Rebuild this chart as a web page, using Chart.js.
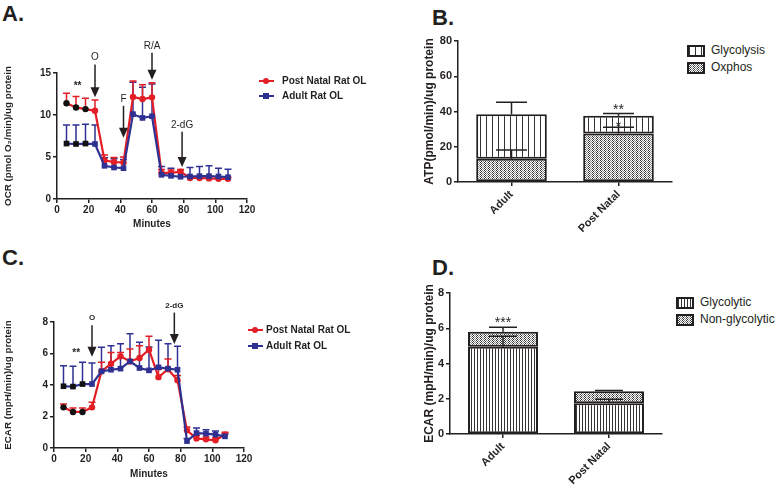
<!DOCTYPE html>
<html>
<head>
<meta charset="utf-8">
<script src="https://cdn.jsdelivr.net/npm/chart.js@4.4.1/dist/chart.umd.min.js"></script>
<style>
  body { margin: 0; width: 778px; height: 490px; background: #fff; position: relative; overflow: hidden;
         font-family: "Liberation Sans", Arial, sans-serif; color: #231f20; }
  canvas { position: absolute; }
  .tag { position: absolute; font-weight: bold; font-size: 22px; line-height: 22px; }
  .lg { position: absolute; font-size: 10px; font-weight: bold; line-height: 12px; white-space: nowrap; }
  .lg .ln { position: absolute; left: 0; top: 5px; width: 15px; height: 2px; }
  .lg .pt { position: absolute; left: 4px; top: 3px; width: 6px; height: 6px; }
  .lg .txt { position: absolute; top: 0; }
  .blg { position: absolute; font-size: 12px; line-height: 14px; white-space: nowrap; }
  .blg .sw { position: absolute; left: 0; top: 2px; width: 14px; height: 8px; border: 2px solid #231f20; }
  .blg .txt { position: absolute; left: 24px; top: 0; }
</style>
</head>
<body>
<div class="tag" style="left:2px;top:3px">A.</div>
<div class="tag" style="left:432px;top:7px">B.</div>
<div class="tag" style="left:2px;top:247px">C.</div>
<div class="tag" style="left:432px;top:257px">D.</div>

<canvas id="chartA" width="260" height="234" style="left:0;top:0"></canvas>
<canvas id="chartB" width="260" height="240" style="left:420px;top:0"></canvas>
<canvas id="chartC" width="256" height="244" style="left:0;top:240px"></canvas>
<canvas id="chartD" width="250" height="250" style="left:420px;top:240px"></canvas>

<div class="lg" style="left:259px;top:75px">
  <div class="ln" style="background:#e31e26"></div><div class="pt" style="background:#e31e26;border-radius:50%"></div>
  <div class="txt" style="left:23px">Post Natal Rat OL</div>
</div>
<div class="lg" style="left:259px;top:90px">
  <div class="ln" style="background:#2e3192"></div><div class="pt" style="background:#2e3192"></div>
  <div class="txt" style="left:23px">Adult Rat OL</div>
</div>
<div class="lg" style="left:248px;top:324px">
  <div class="ln" style="background:#e31e26"></div><div class="pt" style="background:#e31e26;border-radius:50%"></div>
  <div class="txt" style="left:18px">Post Natal Rat OL</div>
</div>
<div class="lg" style="left:248px;top:340px">
  <div class="ln" style="background:#2e3192"></div><div class="pt" style="background:#2e3192"></div>
  <div class="txt" style="left:18px">Adult Rat OL</div>
</div>

<div class="blg" style="left:687px;top:43px"><div class="sw" id="swB1"></div><div class="txt">Glycolysis</div></div>
<div class="blg" style="left:687px;top:60px"><div class="sw" id="swB2"></div><div class="txt">Oxphos</div></div>
<div class="blg" style="left:676px;top:295px"><div class="sw" id="swD1"></div><div class="txt">Glycolytic</div></div>
<div class="blg" style="left:676px;top:312px"><div class="sw" id="swD2"></div><div class="txt">Non-glycolytic</div></div>

<script>
// ── Data ──────────────────────────────────────────────────────────────────────
const minutes = [6, 12, 18, 24, 30, 36, 42, 48, 54, 60, 66, 72, 78, 84, 90, 96, 102, 108];

// Panel A: OCR
const ocrPostNatal    = [11.4, 10.9, 10.7, 10.5, 4.6, 4.4, 4.35, 12.15, 11.9, 12.1, 3.1, 3.1, 3.25, 2.5, 2.5, 2.45, 2.4, 2.4];
const ocrPostNatalErr = [1.2, 1.3, 1.3, 1.3, 0.65, 0.55, 0.65, 1.9, 1.7, 1.75, 0.4, 0.35, 0.25, 0.2, 0.2, 0.2, 0.2, 0.2];
const ocrAdult        = [6.6, 6.55, 6.6, 6.55, 3.95, 3.75, 3.67, 10.1, 9.65, 9.85, 2.88, 2.76, 2.65, 2.68, 2.72, 2.72, 2.68, 2.6];
const ocrAdultErr     = [2.2, 2.25, 2.3, 2.25, 0.95, 1.05, 1.03, 3.8, 3.65, 3.85, 0.99, 0.91, 0.82, 1.07, 1.15, 1.23, 0.99, 0.95];

// Panel C: ECAR
const ecarPostNatal    = [2.58, 2.29, 2.29, 2.58, 4.87, 5.35, 5.82, 5.5, 5.71, 6.24, 4.5, 5.0, 4.3, 1.12, 0.6, 0.55, 0.49, 0.85];
const ecarPostNatalErr = [0.22, 0.25, 0.25, 0.32, 0.57, 0.72, 0.25, 0.79, 0.79, 0.85, 0.5, 0.65, 0.3, 0.21, 0.2, 0.15, 0.16, 0.15];
const ecarAdult        = [3.92, 3.9, 4.06, 4.06, 4.87, 4.97, 5.04, 5.5, 5.08, 4.93, 5.12, 5.04, 4.97, 0.44, 0.95, 0.91, 0.85, 0.74];
const ecarAdultErr     = [1.31, 1.29, 1.38, 1.34, 1.52, 1.53, 1.58, 1.76, 1.63, 1.48, 1.72, 1.58, 1.49, 0.16, 0.32, 0.25, 0.23, 0.16];

// first points marked significant (drawn black)
const sigPointCount = 3;

// injections
const arrowsA = [
    { label: "O",    x: 24, from: 16.0, to: 12.1 },
    { label: "F",    x: 42, from: 11.1, to: 7.3 },
    { label: "R/A",  x: 60, from: 17.4, to: 14.2 },
    { label: "2-dG", x: 79, from: 8.0,  to: 3.8 }
];
const arrowsC = [
    { label: "O",    x: 24, from: 7.8, to: 5.8 },
    { label: "2-dG", x: 76, from: 8.6, to: 6.6 }
];
const starsA = [{ text: "**", x: 13, y: 13.4 }];
const starsC = [{ text: "**", x: 14, y: 6.0 }];

// Panel B: ATP production
const groups       = ["Adult", "Post Natal"];
const atpOxphos    = [13.2, 27.5];
const atpOxphosErr = [5.0, 3.6];
const atpGlyco     = [25.2, 10.1];
const atpGlycoErr  = [6.8, 1.2];
const starsB = [{ text: "**", x: 1, y: 42.5 }, { text: "*", x: 1, y: 33.0 }];

// Panel D: ECAR split
const ecarGlycolytic     = [4.95, 1.74];
const ecarGlycolyticErr  = [0.6, 0.23];
const ecarNonGlyco       = [0.85, 0.68];
const ecarNonGlycoErr    = [0.25, 0.05];
const starsD = [{ text: "***", x: 0, y: 6.45 }];

// ── Styling ───────────────────────────────────────────────────────────────────
const INK = "#231f20";
const RED = "#e31e26";
const BLUE = "#2e3192";
const FONT = "'Liberation Sans', Arial, sans-serif";

function stripePattern(period) {
    const c = document.createElement("canvas");
    c.width = period; c.height = 4;
    const g = c.getContext("2d");
    g.fillStyle = "#fff"; g.fillRect(0, 0, period, 4);
    g.fillStyle = "#333"; g.fillRect(0, 0, 1, 4);
    return c;
}
function dotPattern() {
    const c = document.createElement("canvas");
    c.width = 4; c.height = 4;
    const g = c.getContext("2d");
    g.fillStyle = "#fff"; g.fillRect(0, 0, 4, 4);
    [[0,0],[2,0],[1,1],[3,1],[0,2],[2,2],[1,3],[3,3]].forEach(([x, y], i) => {
        g.fillStyle = i % 2 ? "#888" : "#333";
        g.fillRect(x, y, 1, 1);
    });
    return c;
}
const tileStripeB = stripePattern(6);
const tileStripeD = stripePattern(3);
const tileDots = dotPattern();
const ctx0 = document.createElement("canvas").getContext("2d");
const patStripeB = ctx0.createPattern(tileStripeB, "repeat");
const patStripeD = ctx0.createPattern(tileStripeD, "repeat");
const patDots = ctx0.createPattern(tileDots, "repeat");

document.getElementById("swB1").style.background = "url(" + tileStripeB.toDataURL() + ")";
document.getElementById("swB2").style.background = "url(" + tileDots.toDataURL() + ")";
document.getElementById("swD1").style.background = "url(" + tileStripeD.toDataURL() + ")";
document.getElementById("swD2").style.background = "url(" + tileDots.toDataURL() + ")";

// ── Plugins ───────────────────────────────────────────────────────────────────
function drawErrors(chart) {
    const c = chart.ctx;
    const ys = chart.scales.y;
    chart.data.datasets.forEach((ds, di) => {
        if (!ds.errors) return;
        const meta = chart.getDatasetMeta(di);
        c.save();
        c.strokeStyle = ds.errorColor;
        c.lineWidth = 1.5;
        meta.data.forEach((el, i) => {
            const e = ds.errors[i];
            if (!e) return;
            const top = el.y - (ys.getPixelForValue(0) - ys.getPixelForValue(e));
            const w = ds.capWidth / 2;
            c.beginPath();
            c.moveTo(el.x, el.y); c.lineTo(el.x, top);
            c.moveTo(el.x - w, top); c.lineTo(el.x + w, top);
            c.stroke();
        });
        c.restore();
    });
}
const errorBarsBehind = { id: "errBehind", beforeDatasetsDraw(chart) { if (chart.config.type === "line") drawErrors(chart); } };
const errorBarsFront = { id: "errFront", afterDatasetsDraw(chart) { if (chart.config.type === "bar") drawErrors(chart); } };

const extras = {
    id: "extras",
    afterDraw(chart, args, opts) {
        const c = chart.ctx, xs = chart.scales.x, ys = chart.scales.y;
        c.save();
        c.fillStyle = INK; c.strokeStyle = INK;
        c.textAlign = "center"; c.textBaseline = "middle";
        (opts.arrows || []).forEach(a => {
            const x = xs.getPixelForValue(a.x);
            const y0 = ys.getPixelForValue(a.from), y1 = ys.getPixelForValue(a.to);
            c.lineWidth = 1.5;
            c.beginPath(); c.moveTo(x, y0); c.lineTo(x, y1 - 8); c.stroke();
            c.beginPath(); c.moveTo(x - 4.5, y1 - 10); c.lineTo(x + 4.5, y1 - 10); c.lineTo(x, y1); c.closePath(); c.fill();
            c.font = opts.arrowFont;
            c.fillText(a.label, x, y0 - 7);
        });
        (opts.stars || []).forEach(s => {
            c.font = opts.starFont;
            c.fillText(s.text, xs.getPixelForValue(s.x), ys.getPixelForValue(s.y) + (opts.starShift || 0));
        });
        c.restore();
    }
};

// ── Axis helpers ──────────────────────────────────────────────────────────────
function yAxis(min, max, step, title, width, tickSize, titleSize) {
    return {
        min, max,
        ticks: { stepSize: step, color: INK, padding: 2, font: { family: FONT, size: tickSize, weight: "bold" } },
        grid: { drawOnChartArea: false, tickLength: 4, color: INK, lineWidth: 1.5 },
        border: { color: INK, width: 1.5 },
        title: { display: true, text: title, color: INK, font: { family: FONT, size: titleSize, weight: "bold" }, padding: { top: 2, bottom: 2 } },
        afterFit(s) { s.width = width; }
    };
}

function lineChart(id, a, b, aErr, bErr, yMax, yStep, title, yW, xH, pad, arrows, stars, arrowFont) {
    const pts = v => minutes.map((m, i) => ({ x: m, y: v[i] }));
    const shade = col => minutes.map((m, i) => i < sigPointCount ? "#111" : col);
    return new Chart(document.getElementById(id), {
        type: "line",
        data: {
            datasets: [
                {
                    label: "Adult Rat OL", data: pts(b), errors: bErr, errorColor: BLUE, capWidth: 7,
                    borderColor: BLUE, borderWidth: 2.2, pointStyle: "rect", pointRadius: 4,
                    pointBackgroundColor: shade(BLUE), pointBorderColor: shade(BLUE), pointBorderWidth: 0, tension: 0
                },
                {
                    label: "Post Natal Rat OL", data: pts(a), errors: aErr, errorColor: RED, capWidth: 7,
                    borderColor: RED, borderWidth: 2.2, pointStyle: "circle", pointRadius: 3.2,
                    pointBackgroundColor: shade(RED), pointBorderColor: shade(RED), pointBorderWidth: 0, tension: 0
                }
            ]
        },
        options: {
            responsive: false, animation: false, devicePixelRatio: 1,
            layout: { padding: pad },
            plugins: {
                legend: { display: false }, tooltip: { enabled: false },
                extras: { arrows, stars, arrowFont, starFont: "bold 10px " + FONT }
            },
            scales: {
                x: {
                    type: "linear", min: 0, max: 120,
                    ticks: { stepSize: 20, color: INK, padding: 1, font: { family: FONT, size: 10, weight: "bold" } },
                    grid: { drawOnChartArea: false, tickLength: 4, color: INK, lineWidth: 1.5 },
                    border: { color: INK, width: 1.5 },
                    title: { display: true, text: "Minutes", color: INK, font: { family: FONT, size: 10, weight: "bold" }, padding: { top: 2, bottom: 4 } },
                    afterFit(s) { s.height = xH; }
                },
                y: yAxis(0, yMax, yStep, title, yW, 10, 9.8)
            }
        },
        plugins: [errorBarsBehind, extras]
    });
}

function barChart(id, dsets, yMax, yStep, title, yW, xH, pad, stars) {
    return new Chart(document.getElementById(id), {
        type: "bar",
        data: { labels: groups, datasets: dsets },
        options: {
            responsive: false, animation: false, devicePixelRatio: 1,
            layout: { padding: pad },
            plugins: {
                legend: { display: false }, tooltip: { enabled: false },
                extras: { stars, starFont: "14px " + FONT, starShift: 3 }
            },
            scales: {
                x: {
                    stacked: true,
                    ticks: { color: INK, padding: 2, minRotation: 45, maxRotation: 45, font: { family: FONT, size: 11, weight: "bold" } },
                    grid: { drawOnChartArea: false, offset: false, tickLength: 4, color: INK, lineWidth: 1.5 },
                    border: { color: INK, width: 1.5 },
                    afterFit(s) { s.height = xH; }
                },
                y: Object.assign(yAxis(0, yMax, yStep, title, yW, 11, 12), { stacked: true })
            }
        },
        plugins: [errorBarsFront, extras]
    });
}

const barBase = { borderColor: INK, borderWidth: 2, borderSkipped: false, categoryPercentage: 1, barPercentage: 0.66, errorColor: INK };

// ── Charts ────────────────────────────────────────────────────────────────────
lineChart("chartA", ocrPostNatal, ocrAdult, ocrPostNatalErr, ocrAdultErr, 15, 5,
    "OCR (pmol O\u2082/min)/ug protein", 57, 35, { top: 73, right: 13, left: 0, bottom: 0 },
    arrowsA, starsA, "10px " + FONT);

lineChart("chartC", ecarPostNatal, ecarAdult, ecarPostNatalErr, ecarAdultErr, 8, 2,
    "ECAR (mpH/min)/ug protein", 54, 36, { top: 82, right: 12, left: 0, bottom: 0 },
    arrowsC, starsC, "bold 8px " + FONT);

barChart("chartB", [
    Object.assign({ label: "Oxphos", data: atpOxphos, errors: atpOxphosErr, backgroundColor: patDots, capWidth: 31 }, barBase),
    Object.assign({ label: "Glycolysis", data: atpGlyco, errors: atpGlycoErr, backgroundColor: patStripeB, capWidth: 31 }, barBase)
], 80, 20, "ATP(pmol/min)/ug protein", 38, 58, { top: 41, right: 8, left: 0, bottom: 0 }, starsB);

barChart("chartD", [
    Object.assign({ label: "Glycolytic", data: ecarGlycolytic, errors: ecarGlycolyticErr, backgroundColor: patStripeD, capWidth: 28 }, barBase),
    Object.assign({ label: "Non-glycolytic", data: ecarNonGlyco, errors: ecarNonGlycoErr, backgroundColor: patDots, capWidth: 28 }, barBase)
], 8, 2, "ECAR (mpH/min)/ug protein", 30, 56, { top: 53, right: 8, left: 0, bottom: 0 }, starsD);
</script>
</body>
</html>
